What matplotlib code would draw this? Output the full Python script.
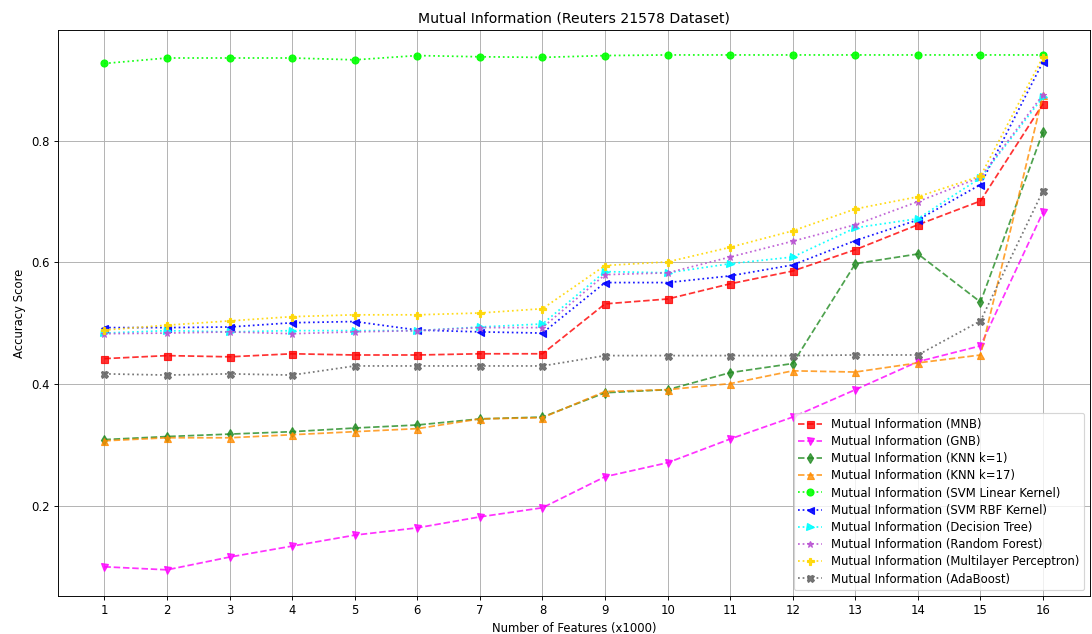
import matplotlib
matplotlib.use("Agg")
import matplotlib.pyplot as plt

features = list(range(1, 17))

mnb = [0.442, 0.447, 0.445, 0.450, 0.448, 0.448, 0.450, 0.450,
       0.532, 0.540, 0.565, 0.586, 0.621, 0.662, 0.701, 0.861]
gnb = [0.100, 0.095, 0.116, 0.134, 0.152, 0.164, 0.182, 0.197,
       0.248, 0.271, 0.310, 0.346, 0.391, 0.437, 0.463, 0.683]
knn1 = [0.309, 0.314, 0.318, 0.322, 0.328, 0.333, 0.343, 0.346,
        0.386, 0.391, 0.419, 0.434, 0.598, 0.614, 0.535, 0.815]
knn17 = [0.307, 0.312, 0.312, 0.317, 0.322, 0.327, 0.343, 0.345,
         0.388, 0.391, 0.401, 0.422, 0.420, 0.435, 0.448, 0.876]
svm_linear = [0.927, 0.936, 0.936, 0.936, 0.933, 0.940, 0.938, 0.937,
              0.940, 0.941, 0.941, 0.941, 0.941, 0.941, 0.941, 0.941]
svm_rbf = [0.493, 0.493, 0.494, 0.501, 0.503, 0.489, 0.486, 0.484,
           0.567, 0.567, 0.578, 0.596, 0.636, 0.670, 0.728, 0.930]
decision_tree = [0.484, 0.488, 0.486, 0.488, 0.488, 0.488, 0.494, 0.499,
                 0.585, 0.583, 0.598, 0.609, 0.657, 0.672, 0.739, 0.872]
random_forest = [0.483, 0.484, 0.486, 0.483, 0.486, 0.488, 0.493, 0.493,
                 0.580, 0.583, 0.609, 0.635, 0.662, 0.700, 0.740, 0.876]
mlp = [0.489, 0.497, 0.504, 0.511, 0.514, 0.514, 0.517, 0.524,
       0.595, 0.601, 0.625, 0.652, 0.688, 0.708, 0.742, 0.938]
adaboost = [0.417, 0.415, 0.417, 0.415, 0.430, 0.430, 0.430, 0.430,
            0.447, 0.447, 0.447, 0.447, 0.448, 0.448, 0.504, 0.718]

series = [
    ("Mutual Information (MNB)", mnb, "red", "s", "--"),
    ("Mutual Information (GNB)", gnb, "magenta", "v", "--"),
    ("Mutual Information (KNN k=1)", knn1, "forestgreen", "d", "--"),
    ("Mutual Information (KNN k=17)", knn17, "darkorange", "^", "--"),
    ("Mutual Information (SVM Linear Kernel)", svm_linear, "lime", "o", ":"),
    ("Mutual Information (SVM RBF Kernel)", svm_rbf, "blue", "<", ":"),
    ("Mutual Information (Decision Tree)", decision_tree, "cyan", ">", ":"),
    ("Mutual Information (Random Forest)", random_forest, "mediumorchid", "*", ":"),
    ("Mutual Information (Multilayer Perceptron)", mlp, "gold", "P", ":"),
    ("Mutual Information (AdaBoost)", adaboost, "dimgray", "X", ":"),
]

DPI = 84
fig = plt.figure(figsize=(1092 / DPI, 634 / DPI), dpi=DPI)
ax = fig.add_axes([57.5 / 1092, 1 - 596 / 634, (1090 - 57.5) / 1092, (596 - 30) / 634])

for label, values, color, marker, ls in series:
    ax.plot(features, values, color=color, marker=marker, linestyle=ls,
            linewidth=1.5, markersize=6, alpha=0.8 if ls == "--" else 0.9,
            label=label)

ax.set_xticks(features)
ax.set_ylim(0.052, 0.982)
ax.set_yticks([0.2, 0.4, 0.6, 0.8])
ax.grid(True, color="#b0b0b0", linewidth=0.8)
ax.set_title("Mutual Information (Reuters 21578 Dataset)", fontsize=12)
ax.set_xlabel("Number of Features (x1000)")
ax.set_ylabel("Accuracy Score")
ax.legend(loc="lower right", fontsize=10, labelspacing=0.36)

fig.savefig("out.png", dpi=DPI)
